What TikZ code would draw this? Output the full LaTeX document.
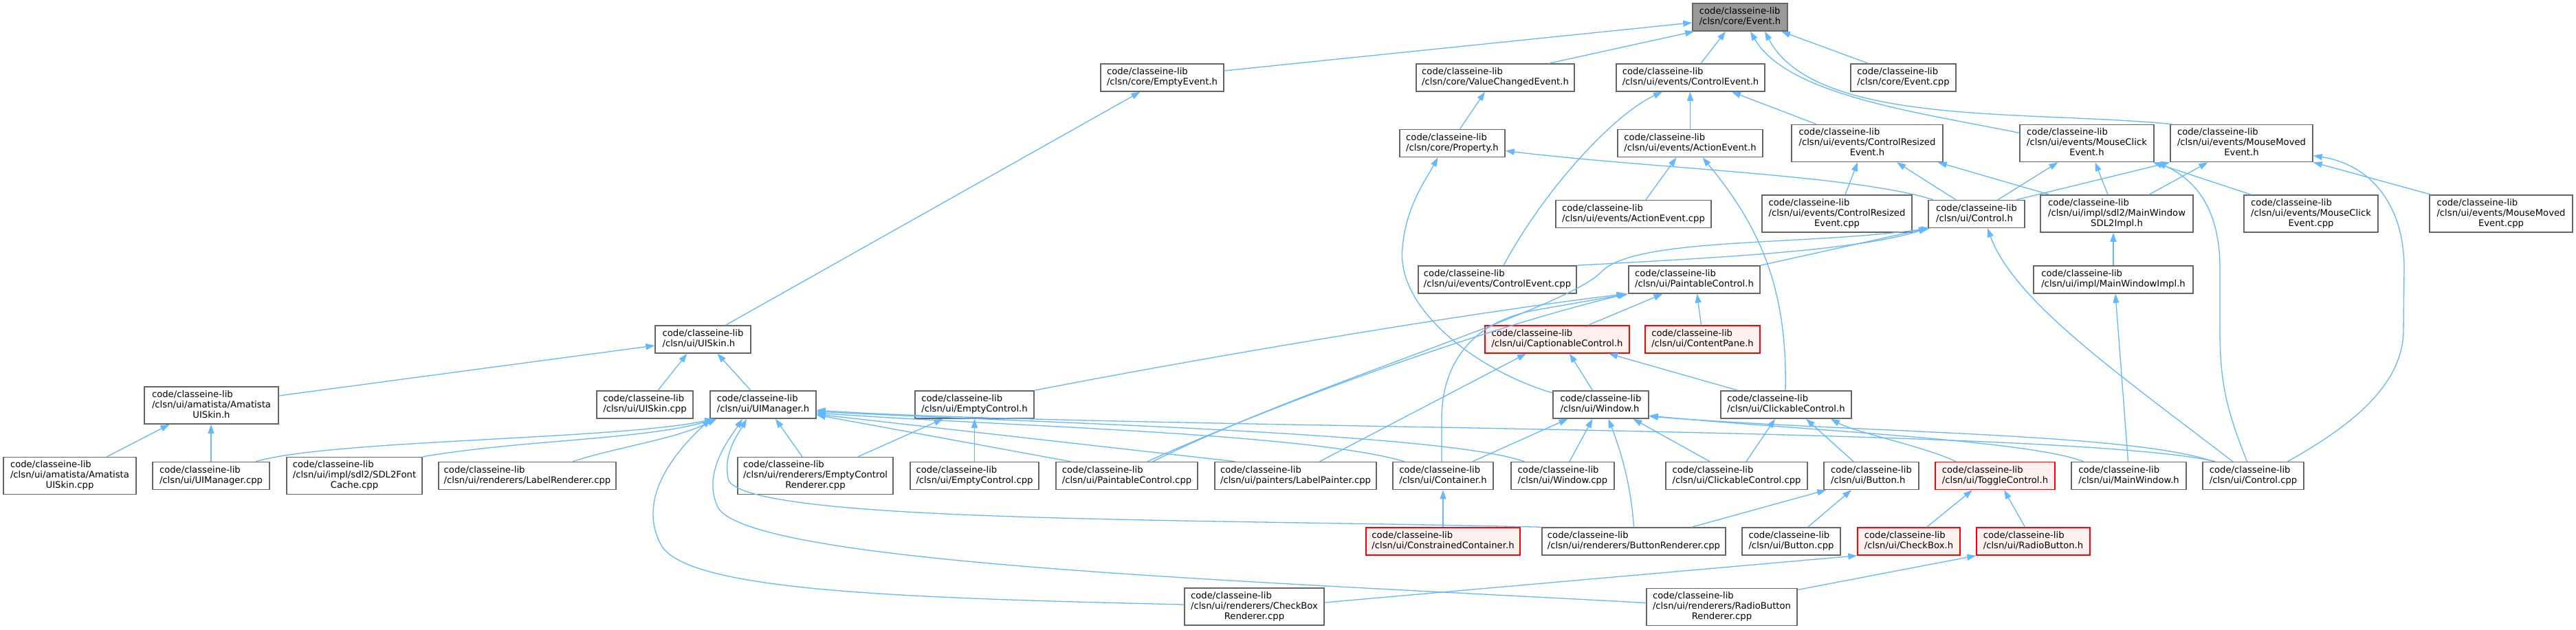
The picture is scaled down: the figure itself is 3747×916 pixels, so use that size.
\documentclass[tikz,border=0pt]{standalone}
\usepackage{fontspec}
\setmainfont{DejaVu Sans}
\usetikzlibrary{arrows.meta}
\definecolor{edgec}{HTML}{63B8FF}
\definecolor{nodeb}{HTML}{666666}
\definecolor{rootf}{HTML}{999999}
\definecolor{truncf}{HTML}{FFF0F0}
\newcommand{\two}[1]{\begin{tabular}{@{}l@{}}code/classeine-lib\\#1\end{tabular}}
\newcommand{\three}[2]{\begin{tabular}{@{}l@{}}code/classeine-lib\\#1\\\multicolumn{1}{@{}c@{}}{#2}\end{tabular}}
\tikzset{
 box/.style={draw=nodeb, line width=1.5pt, fill=white, inner sep=0pt, font=\fontsize{13.2}{15}\selectfont, minimum height=40pt},
 tall/.style={minimum height=54pt},
 rootbox/.style={box, fill=rootf},
 redbox/.style={box, draw=red, fill=truncf},
 arr/.style={draw=edgec, line width=1.3pt, -{Triangle[length=13pt,width=9pt]}},
}
\begin{document}
\begin{tikzpicture}[x=1pt,y=-1pt]
\fill[white] (0,0) rectangle (3747,916);
\useasboundingbox (0,0) rectangle (3747,916);
% row 0
\node[rootbox, minimum width=138pt] (Event) at (2531,25) {\two{/clsn/core/Event.h}};
% row 1
\node[box, minimum width=179pt] (EmptyEvent) at (1690.5,113) {\two{/clsn/core/EmptyEvent.h}};
\node[box, minimum width=230pt] (ValueChanged) at (2175,113) {\two{/clsn/core/ValueChangedEvent.h}};
\node[box, minimum width=216pt] (ControlEvent) at (2459,113) {\two{/clsn/ui/events/ControlEvent.h}};
\node[box, minimum width=153pt] (EventCpp) at (2768.5,113) {\two{/clsn/core/Event.cpp}};
% row 2
\node[box, minimum width=153pt] (Property) at (2112.5,208.5) {\two{/clsn/core/Property.h}};
\node[box, minimum width=211pt] (ActionEvent) at (2458.5,208.5) {\two{/clsn/ui/events/ActionEvent.h}};
\node[box, tall, minimum width=220pt] (ControlResized) at (2716,208.5) {\three{/clsn/ui/events/ControlResized}{Event.h}};
\node[box, tall, minimum width=195pt] (MouseClickEvent) at (3035.5,208.5) {\three{/clsn/ui/events/MouseClick}{Event.h}};
\node[box, tall, minimum width=207pt] (MouseMovedEvent) at (3260.5,208.5) {\three{/clsn/ui/events/MouseMoved}{Event.h}};
% row 3
\node[box, minimum width=226pt] (ActionEventCpp) at (2376,311.5) {\two{/clsn/ui/events/ActionEvent.cpp}};
\node[box, tall, minimum width=218pt] (ControlResizedCpp) at (2672,311) {\three{/clsn/ui/events/ControlResized}{Event.cpp}};
\node[box, minimum width=140pt] (Control) at (2875,311.5) {\two{/clsn/ui/Control.h}};
\node[box, tall, minimum width=222pt] (MainWindowSDL2) at (3079,311) {\three{/clsn/ui/impl/sdl2/MainWindow}{SDL2Impl.h}};
\node[box, tall, minimum width=195pt] (MouseClickCpp) at (3361.5,311) {\three{/clsn/ui/events/MouseClick}{Event.cpp}};
\node[box, tall, minimum width=208pt] (MouseMovedCpp) at (3638,311) {\three{/clsn/ui/events/MouseMoved}{Event.cpp}};
% row 4
\node[box, minimum width=230pt] (ControlEventCpp) at (2178,407) {\two{/clsn/ui/events/ControlEvent.cpp}};
\node[box, minimum width=191pt] (PaintableControl) at (2464.5,407) {\two{/clsn/ui/PaintableControl.h}};
\node[box, minimum width=232pt] (MainWindowImpl) at (3074,407) {\two{/clsn/ui/impl/MainWindowImpl.h}};
% row 5
\node[box, minimum width=139pt] (UISkin) at (1022.5,494) {\two{/clsn/ui/UISkin.h}};
\node[redbox, minimum width=210pt] (Caption) at (2265,494) {\two{/clsn/ui/CaptionableControl.h}};
\node[redbox, minimum width=167pt] (ContentPane) at (2476.5,494) {\two{/clsn/ui/ContentPane.h}};
% row 6
\node[box, tall, minimum width=195pt] (AmatistaUISkinH) at (307.5,590) {\three{/clsn/ui/amatista/Amatista}{UISkin.h}};
\node[box, minimum width=140pt] (UISkinCpp) at (938,589) {\two{/clsn/ui/UISkin.cpp}};
\node[box, minimum width=154pt] (UIManager) at (1110,589) {\two{/clsn/ui/UIManager.h}};
\node[box, minimum width=173pt] (EmptyControl) at (1417.5,589) {\two{/clsn/ui/EmptyControl.h}};
\node[box, minimum width=139pt] (Window) at (2328.5,589) {\two{/clsn/ui/Window.h}};
\node[box, minimum width=190pt] (ClickableControl) at (2598,589) {\two{/clsn/ui/ClickableControl.h}};
% row 7
\node[box, tall, minimum width=193pt] (AmatistaUISkinCpp) at (101.5,692.5) {\three{/clsn/ui/amatista/Amatista}{UISkin.cpp}};
\node[box, minimum width=170pt] (UIManagerCpp) at (307,692.5) {\two{/clsn/ui/UIManager.cpp}};
\node[box, tall, minimum width=197pt] (SDL2FontCache) at (515.5,692.5) {\three{/clsn/ui/impl/sdl2/SDL2Font}{Cache.cpp}};
\node[box, minimum width=258pt] (LabelRenderer) at (767,692.5) {\two{/clsn/ui/renderers/LabelRenderer.cpp}};
\node[box, tall, minimum width=226pt] (EmptyControlRenderer) at (1186,692.5) {\three{/clsn/ui/renderers/EmptyControl}{Renderer.cpp}};
\node[box, minimum width=187pt] (EmptyControlCpp) at (1417.5,692.5) {\two{/clsn/ui/EmptyControl.cpp}};
\node[box, minimum width=206pt] (PaintableControlCpp) at (1639,692.5) {\two{/clsn/ui/PaintableControl.cpp}};
\node[box, minimum width=235pt] (LabelPainter) at (1884.5,692.5) {\two{/clsn/ui/painters/LabelPainter.cpp}};
\node[box, minimum width=146pt] (Container) at (2099,692.5) {\two{/clsn/ui/Container.h}};
\node[box, minimum width=150pt] (WindowCpp) at (2273,692.5) {\two{/clsn/ui/Window.cpp}};
\node[box, minimum width=206pt] (ClickableControlCpp) at (2526,692.5) {\two{/clsn/ui/ClickableControl.cpp}};
\node[box, minimum width=138pt] (Button) at (2722,692.5) {\two{/clsn/ui/Button.h}};
\node[redbox, minimum width=174pt] (ToggleControl) at (2902,692.5) {\two{/clsn/ui/ToggleControl.h}};
\node[box, minimum width=167pt] (MainWindow) at (3096.5,692.5) {\two{/clsn/ui/MainWindow.h}};
\node[box, minimum width=147pt] (ControlCpp) at (3277.5,692.5) {\two{/clsn/ui/Control.cpp}};
% row 8
\node[redbox, minimum width=224pt] (ConstrainedContainer) at (2099,788) {\two{/clsn/ui/ConstrainedContainer.h}};
\node[box, minimum width=267pt] (ButtonRenderer) at (2376.5,788) {\two{/clsn/ui/renderers/ButtonRenderer.cpp}};
\node[box, minimum width=143pt] (ButtonCpp) at (2605.5,788) {\two{/clsn/ui/Button.cpp}};
\node[redbox, minimum width=149pt] (CheckBox) at (2776.5,788) {\two{/clsn/ui/CheckBox.h}};
\node[redbox, minimum width=165pt] (RadioButton) at (2957.5,788) {\two{/clsn/ui/RadioButton.h}};
% row 9
\node[box, tall, minimum width=203pt] (CheckBoxRenderer) at (1824.5,883) {\three{/clsn/ui/renderers/CheckBox}{Renderer.cpp}};
\node[box, tall, minimum width=219pt] (RadioButtonRenderer) at (2504.5,883.5) {\three{/clsn/ui/renderers/RadioButton}{Renderer.cpp}};

% edges into Event.h
\draw[arr] ([yshift=10pt]EmptyEvent.east) -- ([yshift=-8pt]Event.west);
\draw[arr] ([xshift=78pt]ValueChanged.north) -- ([xshift=3pt]Event.south west);
\draw[arr] ([xshift=15pt]ControlEvent.north) -- ([xshift=-21pt]Event.south);
\draw[arr] ([xshift=-51pt]EventCpp.north) -- ([xshift=60pt]Event.south);
\draw[arr] ([yshift=15pt]MouseClickEvent.west) .. controls (2800,165) and (2600,140) .. ([xshift=15pt]Event.south);
\draw[arr] ([xshift=3pt]MouseMovedEvent.north west) .. controls (2950,160) and (2640,185) .. ([xshift=36pt]Event.south);
% row 1/2
\draw[arr] ([xshift=33pt]UISkin.north) -- ([xshift=-32pt]EmptyEvent.south);
\draw[arr] ([xshift=11pt]Property.north) -- ([xshift=-15pt]ValueChanged.south);
\draw[arr] ([xshift=9pt]ControlEventCpp.north) .. controls (2250,270) and (2350,165) .. ([xshift=-41pt]ControlEvent.south);
\draw[arr] (ActionEvent.north) -- (ActionEvent.north |- ControlEvent.south);
\draw[arr] ([xshift=-74pt]ControlResized.north) -- ([xshift=60pt]ControlEvent.south);
\draw[arr] ([yshift=17pt]Window.west) .. controls (2150,540) and (2030,450) .. (2040,360) .. controls (2045,300) and (2075,260) .. ([xshift=-21pt]Property.south);
\draw[arr] ([xshift=-63pt]Control.north) .. controls (2700,255) and (2400,245) .. ([yshift=-11pt]Property.east);
\draw[arr] ([xshift=18pt]ActionEventCpp.north) -- ([xshift=-20pt]ActionEvent.south);
\draw[arr] ([xshift=-1pt]ClickableControl.north) .. controls (2600,420) and (2560,330) .. ([xshift=18pt]ActionEvent.south);
\draw[arr] ([xshift=12pt]ControlResizedCpp.north) -- ([xshift=-14pt]ControlResized.south);
\draw[arr] ([xshift=-30pt]Control.north) -- ([xshift=43pt]ControlResized.south);
\draw[arr] ([xshift=-98pt]MainWindowSDL2.north) -- ([xshift=-8pt]ControlResized.south east);
\draw[arr] ([xshift=31pt]Control.north) -- ([xshift=-42pt]MouseClickEvent.south);
\draw[arr] ([xshift=58pt]Control.north) -- (MouseMovedEvent.south west);
\draw[arr] ([xshift=-13pt]MainWindowSDL2.north) -- ([xshift=12pt]MouseClickEvent.south);
\draw[arr] ([xshift=47pt]MainWindowSDL2.north) -- ([xshift=-49pt]MouseMovedEvent.south);
\draw[arr] ([xshift=-87pt]MouseClickCpp.north) -- ([xshift=-2pt]MouseClickEvent.south east);
\draw[arr] ([xshift=-9pt]ControlCpp.north) .. controls (3240,600) and (3229,560) .. (3229,480) -- (3229,390) .. controls (3229,300) and (3190,260) .. ([xshift=4pt]MouseClickEvent.south east);
\draw[arr] ([xshift=3pt]MouseMovedCpp.north west) -- (MouseMovedEvent.south east);
\draw[arr] ([xshift=50pt]ControlCpp.north) .. controls (3420,620) and (3496,560) .. (3496,480) -- (3497,390) .. controls (3497,300) and (3450,240) .. ([yshift=-18pt]MouseMovedEvent.east);
% into Control.h
\draw[arr] (ControlEventCpp.north east) .. controls (2500,375) and (2700,365) .. (Control.south west);
\draw[arr] (PaintableControl.north east) -- (Control.south west);
\draw[arr] ([xshift=38pt]PaintableControlCpp.north) .. controls (1900,560) and (2280,450) .. (2330,395) .. controls (2380,345) and (2620,358) .. ([xshift=3pt]Control.south west);
\draw[arr] ([xshift=-30pt]ControlCpp.north) .. controls (3090,550) and (2930,440) .. ([xshift=16pt]Control.south);
\draw[arr] (MainWindowImpl.north) -- (MainWindowImpl.north |- MainWindowSDL2.south);
\draw[arr] ([xshift=-1pt]MainWindow.north) -- ([xshift=3pt]MainWindowImpl.south);
% UISkin group
\draw[arr] ([yshift=14pt]AmatistaUISkinH.east) -- ([yshift=-9pt]UISkin.west);
\draw[arr] ([xshift=19pt]UISkinCpp.north) -- ([xshift=-23pt]UISkin.south);
\draw[arr] ([xshift=-18pt]UIManager.north) -- ([xshift=21pt]UISkin.south);
\draw[arr] ([xshift=54pt]AmatistaUISkinCpp.north) -- ([xshift=-61pt]AmatistaUISkinH.south);
\draw[arr] (UIManagerCpp.north) -- (UIManagerCpp.north |- AmatistaUISkinH.south);
% into UIManager.h
\draw[arr] ([xshift=65pt]UIManagerCpp.north) .. controls (480,640) and (900,640) .. ([xshift=6pt]UIManager.south west);
\draw[arr] (SDL2FontCache.north east) .. controls (760,640) and (940,640) .. ([xshift=8pt]UIManager.south west);
\draw[arr] ([xshift=66pt]LabelRenderer.north) .. controls (900,650) and (980,640) .. ([xshift=10pt]UIManager.south west);
\draw[arr] ([xshift=-19pt]EmptyControlRenderer.north) -- ([xshift=18pt]UIManager.south);
\draw[arr] (ButtonRenderer.north west) .. controls (1700,755) and (1100,760) .. (1060,700) .. controls (1050,660) and (1075,630) .. ([xshift=-24pt]UIManager.south);
\draw[arr] ([yshift=6pt]RadioButtonRenderer.west) .. controls (1800,845) and (1100,820) .. (1045,740) .. controls (1020,690) and (1060,640) .. ([xshift=-30pt]UIManager.south);
\draw[arr] ([yshift=3pt]CheckBoxRenderer.west) .. controls (1300,870) and (990,860) .. (960,790) .. controls (925,720) and (990,650) .. ([xshift=-76pt]UIManager.south);
\draw[arr] ([xshift=-82pt]PaintableControlCpp.north) -- ([yshift=-15pt]UIManager.east);
\draw[arr] ([xshift=-88pt]LabelPainter.north) -- ([yshift=-14pt]UIManager.east);
\draw[arr] ([xshift=-56pt]Container.north) .. controls (1900,630) and (1450,620) .. ([yshift=-12pt]UIManager.east);
\draw[arr] ([xshift=-56pt]WindowCpp.north) .. controls (2100,630) and (1500,615) .. ([yshift=-10pt]UIManager.east);
\draw[arr] ([xshift=-55pt]ControlCpp.north) .. controls (3000,620) and (1600,625) .. ([yshift=-8pt]UIManager.east);
% into Window.h
\draw[arr] ([xshift=-66pt]MainWindow.north) .. controls (2950,640) and (2600,625) .. ([yshift=-16pt]Window.east);
\draw[arr] ([xshift=-58pt]ControlCpp.north) .. controls (3100,630) and (2700,630) .. ([yshift=-17pt]Window.east);
\draw[arr] ([xshift=-39pt]ClickableControlCpp.north) -- ([xshift=47pt]Window.south);
\draw[arr] ([xshift=10pt]WindowCpp.north) -- ([xshift=-12pt]Window.south);
\draw[arr] ([xshift=43pt]Container.north) -- ([xshift=-48pt]Window.south);
\draw[arr] (ButtonRenderer.north) .. controls (2372,700) and (2355,650) .. ([xshift=11pt]Window.south);
% into ClickableControl.h
\draw[arr] ([xshift=-57pt]ToggleControl.north) .. controls (2800,650) and (2700,630) .. ([xshift=65pt]ClickableControl.south);
\draw[arr] ([xshift=14pt]ClickableControlCpp.north) -- ([xshift=-16pt]ClickableControl.south);
\draw[arr] ([xshift=-26pt]Button.north) -- ([xshift=29pt]ClickableControl.south);
% Button, Container
\draw[arr] ([xshift=84pt]ButtonRenderer.north) -- ([xshift=4pt]Button.south west);
\draw[arr] ([xshift=24pt]ButtonCpp.north) -- ([xshift=-29pt]Button.south);
\draw[arr] (ConstrainedContainer.north) -- (Container.south);
% into PaintableControl.h
\draw[arr] ([xshift=-2pt]Container.north) -- (2097,610) .. controls (2097,530) and (2140,470) .. (2230,452) -- (PaintableControl.south west);
\draw[arr] (EmptyControl.north east) .. controls (1700,530) and (2100,460) .. ([xshift=-4pt]PaintableControl.south west);
\draw[arr] ([xshift=30pt]PaintableControlCpp.north) .. controls (1850,590) and (2150,480) .. ([xshift=-2pt]PaintableControl.south west);
\draw[arr] ([xshift=45pt]Caption.north) -- ([xshift=-46pt]PaintableControl.south);
\draw[arr] ([xshift=-2pt]ContentPane.north) -- ([xshift=4pt]PaintableControl.south);
% into Caption
\draw[arr] ([xshift=-12pt]Window.north) -- ([xshift=18pt]Caption.south);
\draw[arr] ([xshift=-70pt]ClickableControl.north) -- ([xshift=75pt]Caption.south);
\draw[arr] ([xshift=35pt]LabelPainter.north) -- ([xshift=-45pt]Caption.south);
% toggle group
\draw[arr] ([xshift=26pt]CheckBox.north) -- ([xshift=-33pt]ToggleControl.south);
\draw[arr] ([xshift=-12pt]RadioButton.north) -- ([xshift=13pt]ToggleControl.south);
\draw[arr] ([yshift=6pt]CheckBoxRenderer.east) -- (CheckBox.south west);
\draw[arr] ([yshift=25pt]RadioButtonRenderer.east) -- (RadioButton.south west);
% EmptyControl
\draw[arr] ([xshift=62pt]EmptyControlRenderer.north) -- ([xshift=-46pt]EmptyControl.south);
\draw[arr] (EmptyControlCpp.north) -- (EmptyControl.south);
\end{tikzpicture}
\end{document}
